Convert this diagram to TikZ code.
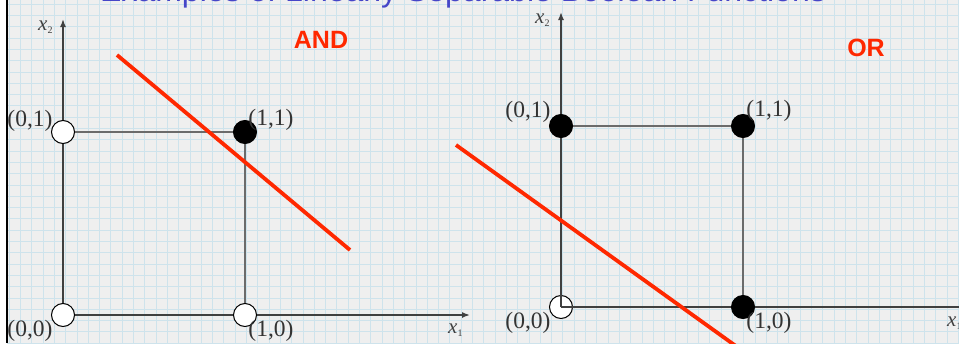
\documentclass[tikz,border=0pt]{standalone}
\usepackage{fontspec}
\setmainfont{Liberation Serif}
\newfontfamily\headfont{Liberation Sans}
\usetikzlibrary{arrows.meta}
\definecolor{gridblue}{RGB}{206,227,236}
\definecolor{paper}{RGB}{239,239,239}
\definecolor{redline}{RGB}{255,40,0}
\definecolor{titleblue}{RGB}{70,70,200}
\begin{document}
\begin{tikzpicture}[x=1pt,y=-1pt,
  pt/.style={circle, draw=black, line width=1pt, minimum size=23pt, inner sep=0pt},
  on/.style={pt, fill=black},
  off/.style={pt, fill=white},
  axisline/.style={draw=black!75, line width=1.5pt},
  sideline/.style={draw=black!58, line width=1.9pt},
  tip/.style={-{Latex[length=8pt,width=6pt]}},
  redl/.style={draw=redline, line width=3.8pt},
  lbl/.style={font=\fontsize{23.5}{23.5}\selectfont, text=black!80, inner sep=0pt},
  gate/.style={font=\headfont\bfseries\fontsize{25}{25}\selectfont, text=redline, inner sep=0pt},
  axl/.style={font=\fontsize{21}{21}\selectfont\itshape, text=black!75, inner sep=0pt}]
\useasboundingbox (0,0) rectangle (959,343);
\clip (0,0) rectangle (959,343);
\fill[paper] (7,0) rectangle (959,343);
\fill[white] (0,0) rectangle (7,343);
\foreach \i in {0,...,84} \draw[gridblue, line width=0.6pt] ({9+11.3*\i},0) -- ++(0,343);
\foreach \j in {0,...,30} \draw[gridblue, line width=0.6pt] (7,{4+11.3*\j}) -- (959,{4+11.3*\j});
\draw[black, line width=2pt] (7,0) -- (7,343);
% title (cut off at the top)
\node[anchor=base west, font=\headfont\fontsize{32}{32}\selectfont, text=titleblue, inner sep=0pt] (title) at (100,1.5) {Examples of Linearly Separable Boolean Functions};
% ---------- AND ----------
\node[off] (a00) at (63,315) {};
\node[off] (a10) at (245,315) {};
\node[off] (a01) at (63,132) {};
\node[on]  (a11) at (245,132) {};
\coordinate (ay) at (63,19);
\coordinate (ax) at (470,315);
\draw[axisline] (a00) -- (a01);
\draw[axisline, tip] (a01) -- (ay);
\draw[axisline] (a00) -- (a10);
\draw[axisline, tip] (a10) -- (ax);
\draw[sideline] (a01) -- (a11);
\draw[sideline] (a11) -- (a10);
\node[lbl] (la01) at (30,121) {(0,1)};
\node[lbl] (la11) at (271,120) {(1,1)};
\node[lbl] (la00) at (30,331) {(0,0)};
\node[lbl] (la10) at (271,331) {(1,0)};
\node[axl, anchor=west] (lax2) at (38,27) {x\raisebox{-3pt}{\upshape\fontsize{10}{10}\selectfont 2}};
\node[axl, anchor=west] (lax1) at (448,330) {x\raisebox{-3pt}{\upshape\fontsize{10}{10}\selectfont 1}};
\node[gate] (and) at (321,40) {AND};
\coordinate (r1s) at (117,55);
\coordinate (r1e) at (350,250);
\draw[redl] (r1s) -- (r1e);
% ---------- OR ----------
\node[off] (b00) at (561,307) {};
\node[on]  (b10) at (743,307) {};
\node[on]  (b01) at (561,126) {};
\node[on]  (b11) at (743,126) {};
\coordinate (by) at (561,12);
\coordinate (bx) at (968,307);
\draw[axisline] (b00.center) -- (b01);
\draw[axisline, tip] (b01) -- (by);
\draw[axisline] (b00.center) -- (b10);
\draw[axisline, tip] (b10) -- (bx);
\draw[sideline] (b01) -- (b11);
\draw[sideline] (b11) -- (b10);
\node[lbl] (lb01) at (528,112) {(0,1)};
\node[lbl] (lb11) at (769,111) {(1,1)};
\node[lbl] (lb00) at (528,323) {(0,0)};
\node[lbl] (lb10) at (769,323) {(1,0)};
\node[axl, anchor=west] (lbx2) at (535,20) {x\raisebox{-3pt}{\upshape\fontsize{10}{10}\selectfont 2}};
\node[axl, anchor=west] (lbx1) at (947,323) {x\raisebox{-3pt}{\upshape\fontsize{10}{10}\selectfont 1}};
\node[gate] (or) at (866,48) {OR};
\coordinate (r2s) at (456,145);
\coordinate (r2e) at (740,349);
\draw[redl] (r2s) -- (r2e);
\end{tikzpicture}
\end{document}
